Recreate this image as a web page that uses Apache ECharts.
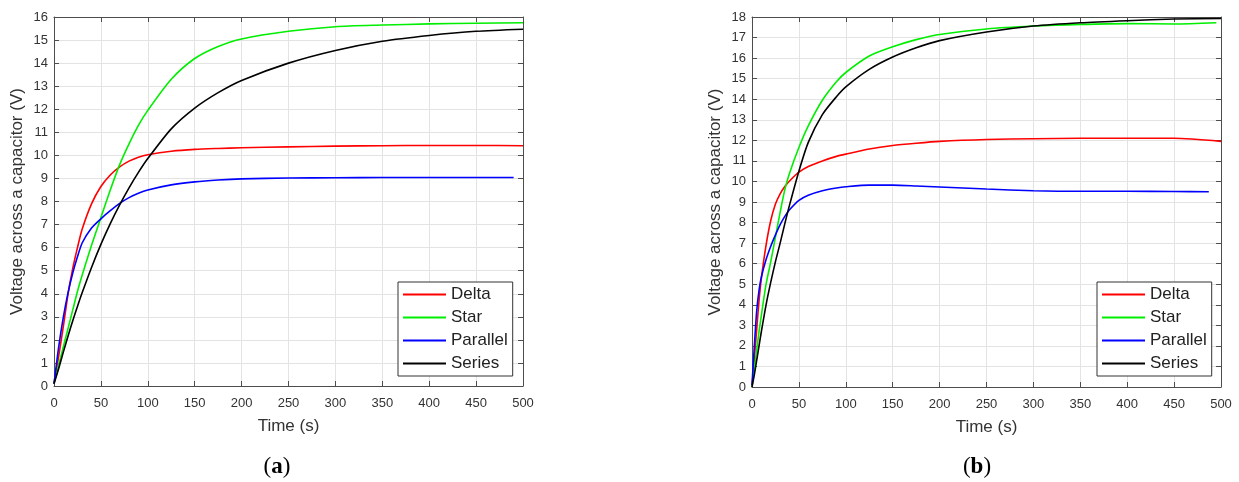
<!DOCTYPE html>
<html>
<head>
<meta charset="utf-8">
<script src="https://cdn.jsdelivr.net/npm/echarts@6/dist/echarts.min.js"></script>
<style>
  html, body { margin: 0; padding: 0; background: #fff; }
  #chart { width: 1239px; height: 482px; }
</style>
</head>
<body>
<div id="chart"></div>
<script>
// names in the legend
var seriesNames = ['Delta', 'Star', 'Parallel', 'Series'];
var seriesColors = ['#ff0000', '#00ee00', '#0000ff', '#000000'];

// (a) time axis points
var tA = [0, 5, 10, 15, 20, 25, 30, 40, 50, 60, 70, 80, 90, 100, 125, 150, 175, 200, 250, 300, 350, 400, 450, 500];
var deltaA = [0.1, 1.3, 2.6, 4.0, 5.1, 6.0, 6.8, 7.9, 8.65, 9.15, 9.5, 9.75, 9.92, 10.03, 10.18, 10.26, 10.3, 10.33, 10.37, 10.4, 10.42, 10.43, 10.43, 10.42];
var starA = [0.1, 0.9, 1.7, 2.5, 3.3, 4.1, 4.8, 6.1, 7.3, 8.5, 9.6, 10.5, 11.3, 11.95, 13.3, 14.2, 14.72, 15.05, 15.38, 15.58, 15.65, 15.7, 15.73, 15.75];
var tParA = [0, 5, 10, 15, 20, 25, 30, 40, 50, 60, 70, 80, 90, 100, 125, 150, 175, 200, 250, 300, 350, 400, 450, 490];
var parallelA = [0.1, 1.7, 3.0, 4.05, 4.9, 5.6, 6.2, 6.85, 7.25, 7.6, 7.92, 8.17, 8.36, 8.5, 8.72, 8.85, 8.93, 8.98, 9.02, 9.03, 9.04, 9.04, 9.04, 9.04];
var seriesA = [0.1, 0.76, 1.48, 2.17, 2.83, 3.45, 4.04, 5.14, 6.14, 7.04, 7.85, 8.59, 9.26, 9.86, 11.15, 12.05, 12.72, 13.25, 14.0, 14.55, 14.95, 15.2, 15.38, 15.47];

// (b) time axis points
var tB = [0, 2.5, 5, 7.5, 10, 15, 20, 25, 30, 35, 40, 50, 60, 75, 90, 100, 125, 150, 175, 200, 250, 300, 350, 400, 450, 500];
var deltaB = [0, 1.4, 2.8, 4.2, 5.3, 6.9, 8.1, 8.9, 9.4, 9.75, 10.02, 10.45, 10.73, 11.0, 11.22, 11.33, 11.58, 11.75, 11.86, 11.95, 12.04, 12.08, 12.1, 12.1, 12.1, 11.95];
var tStarB = [0, 2.5, 5, 7.5, 10, 15, 20, 25, 30, 35, 40, 50, 60, 75, 90, 100, 125, 150, 175, 200, 250, 300, 350, 400, 450, 495];
var starB = [0, 0.9, 1.8, 2.7, 3.5, 5.0, 6.1, 7.3, 8.5, 9.6, 10.4, 11.65, 12.7, 13.95, 14.85, 15.3, 16.1, 16.55, 16.9, 17.15, 17.42, 17.56, 17.64, 17.68, 17.66, 17.72];
var tParB = [0, 2.5, 5, 7.5, 10, 15, 20, 25, 30, 35, 40, 50, 60, 75, 90, 100, 125, 150, 175, 200, 250, 300, 350, 400, 450, 487];
var parallelB = [0.1, 2.0, 3.7, 4.7, 5.35, 6.2, 6.85, 7.4, 7.9, 8.3, 8.62, 9.08, 9.33, 9.55, 9.68, 9.74, 9.82, 9.82, 9.78, 9.73, 9.63, 9.55, 9.52, 9.52, 9.51, 9.5];
var seriesB = [0, 0.6, 1.3, 2.0, 2.7, 4.0, 5.1, 6.1, 7.0, 7.95, 8.85, 10.5, 11.9, 13.25, 14.12, 14.6, 15.45, 16.05, 16.5, 16.85, 17.27, 17.56, 17.72, 17.82, 17.9, 17.93];

var font = 'Liberation Sans, Arial, sans-serif';
var axisCol = '#4d4d4d';

function pairs(t, v) {
    return t.map(function (x, i) { return [x, v[i]]; });
}

function xAxes(grid) {
    return [{
        type: 'value', gridIndex: grid, min: 0, max: 500, interval: 50, position: 'bottom',
        name: 'Time (s)', nameLocation: 'middle', nameGap: 32,
        nameTextStyle: { fontFamily: font, fontSize: 17, color: '#333' },
        axisLine: { onZero: false, lineStyle: { color: axisCol, width: 1 } },
        axisTick: { inside: true, length: 5, lineStyle: { color: axisCol } },
        axisLabel: { fontFamily: font, fontSize: 13, color: '#333', margin: 11 },
        splitLine: { show: true, lineStyle: { color: '#e3e3e3', width: 1 } }
    }, {
        type: 'value', gridIndex: grid, min: 0, max: 500, interval: 50, position: 'top',
        axisLine: { onZero: false, lineStyle: { color: axisCol, width: 1 } },
        axisTick: { inside: true, length: 5, lineStyle: { color: axisCol } },
        axisLabel: { show: false },
        splitLine: { show: false }
    }];
}

function yAxes(grid, max) {
    return [{
        type: 'value', gridIndex: grid, min: 0, max: max, interval: 1, position: 'left',
        name: 'Voltage across a capacitor (V)', nameLocation: 'middle', nameGap: 28,
        nameTextStyle: { fontFamily: font, fontSize: 17, color: '#333' },
        axisLine: { show: true, onZero: false, lineStyle: { color: axisCol, width: 1 } },
        axisTick: { show: true, inside: true, length: 5, lineStyle: { color: axisCol } },
        axisLabel: { fontFamily: font, fontSize: 13, color: '#333', margin: 6 },
        splitLine: { show: true, lineStyle: { color: '#e3e3e3', width: 1 } }
    }, {
        type: 'value', gridIndex: grid, min: 0, max: max, interval: 1, position: 'right',
        axisLine: { show: true, onZero: false, lineStyle: { color: axisCol, width: 1 } },
        axisTick: { show: true, inside: true, length: 5, lineStyle: { color: axisCol } },
        axisLabel: { show: false },
        splitLine: { show: false }
    }];
}

function line(name, idx, data, grid) {
    return {
        name: name, type: 'line', data: data, xAxisIndex: grid * 2, yAxisIndex: grid * 2,
        symbol: 'none', smooth: 0.25, silent: true,
        lineStyle: { color: seriesColors[idx], width: 1.6 },
        itemStyle: { color: seriesColors[idx] }
    };
}

function legend(left) {
    return {
        data: seriesNames, orient: 'vertical', left: left, top: 282,
        padding: [4, 5, 4, 5], itemGap: 6, itemWidth: 43, itemHeight: 2, icon: 'rect',
        backgroundColor: '#fff', borderColor: '#333', borderWidth: 1, borderRadius: 0,
        selectedMode: false,
        textStyle: { fontFamily: font, fontSize: 17, color: '#222' }
    };
}

var chart = echarts.init(document.getElementById('chart'), null, { renderer: 'canvas' });

chart.setOption({
    animation: false,
    backgroundColor: '#fff',
    grid: [
        { left: 54, top: 17, width: 469, height: 369 },
        { left: 752, top: 17, width: 469, height: 370 }
    ],
    xAxis: xAxes(0).concat(xAxes(1)),
    yAxis: yAxes(0, 16).concat(yAxes(1, 18)),
    legend: [legend(398), legend(1097)],
    series: [
        line('Delta', 0, pairs(tA, deltaA), 0),
        line('Star', 1, pairs(tA, starA), 0),
        line('Parallel', 2, pairs(tParA, parallelA), 0),
        line('Series', 3, pairs(tA, seriesA), 0),
        line('Delta', 0, pairs(tB, deltaB), 1),
        line('Star', 1, pairs(tStarB, starB), 1),
        line('Parallel', 2, pairs(tParB, parallelB), 1),
        line('Series', 3, pairs(tB, seriesB), 1)
    ],
    graphic: [
        { type: 'text', x: 277, y: 467, style: { text: '{p|(}{b|a}{p|)}', align: 'center', verticalAlign: 'middle',
            rich: { p: { fontFamily: 'Liberation Serif, serif', fontSize: 23, fill: '#000' },
                    b: { fontFamily: 'Liberation Serif, serif', fontSize: 23, fontWeight: 'bold', fill: '#000' } } } },
        { type: 'text', x: 977, y: 467, style: { text: '{p|(}{b|b}{p|)}', align: 'center', verticalAlign: 'middle',
            rich: { p: { fontFamily: 'Liberation Serif, serif', fontSize: 23, fill: '#000' },
                    b: { fontFamily: 'Liberation Serif, serif', fontSize: 23, fontWeight: 'bold', fill: '#000' } } } }
    ]
});
</script>
</body>
</html>
